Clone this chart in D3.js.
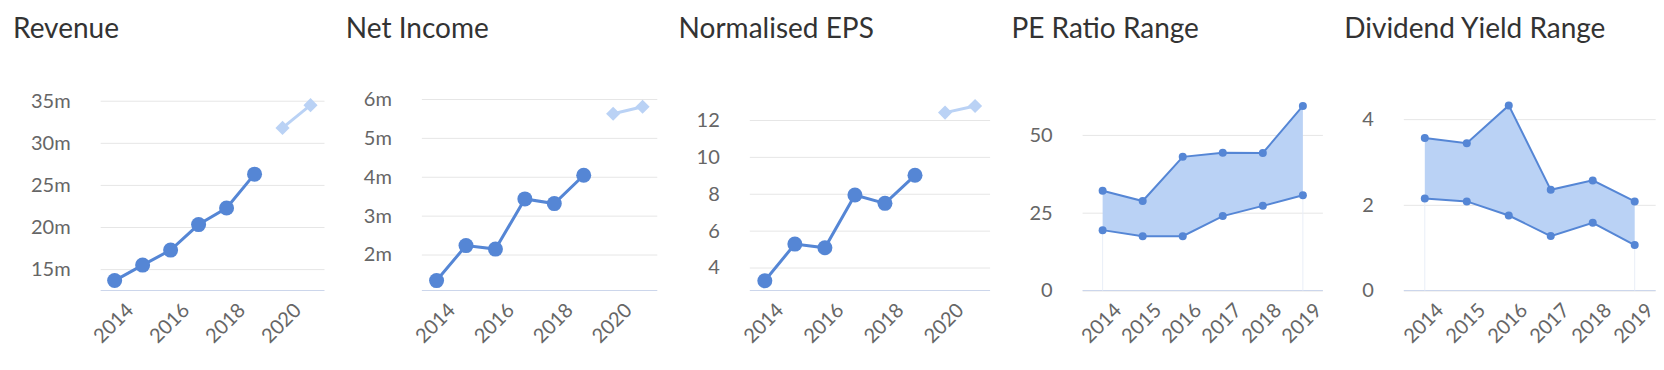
<!DOCTYPE html>
<meta charset="utf-8">
<style>
body { margin: 0; background: #fff; }
svg text { font-family: Lato, sans-serif; }
.title { font-size: 28px; fill: #333; }
.tick text { font-size: 20px; fill: #666; }
</style>
<body>
<script src="https://d3js.org/d3.v7.min.js"></script>
<script>

// chart data
var titles = ["Revenue", "Net Income", "Normalised EPS", "PE Ratio Range", "Dividend Yield Range"];

var lineYears = [2014, 2015, 2016, 2017, 2018, 2019, 2020, 2021];
var lineLabelYears = [2014, 2016, 2018, 2020];
var actualYears = [2014, 2015, 2016, 2017, 2018, 2019];
var forecastYears = [2020, 2021];

var revenue = [13.64, 15.48, 17.26, 20.29, 22.26, 26.28];
var revenueForecast = [31.77, 34.47];
var revenueTicks = [15, 20, 25, 30, 35];
var revenueDomain = [12.46, 35.56];

var netIncome = [1.33, 2.23, 2.14, 3.43, 3.31, 4.04];
var netIncomeForecast = [5.62, 5.80];
var netIncomeTicks = [2, 3, 4, 5, 6];
var netIncomeDomain = [1.075, 6.077];

var eps = [3.28, 5.27, 5.07, 7.93, 7.48, 9.00];
var epsForecast = [12.40, 12.76];
var epsTicks = [4, 6, 8, 10, 12];
var epsDomain = [2.754, 13.3];

var rangeYears = [2014, 2015, 2016, 2017, 2018, 2019];

var peLow = [19.4, 17.4, 17.45, 23.9, 27.2, 30.6];
var peHigh = [32.05, 28.75, 42.95, 44.3, 44.2, 59.3];
var peTicks = [0, 25, 50];
var peDomain = [0, 62.5];

var divLow = [2.15, 2.08, 1.75, 1.27, 1.58, 1.06];
var divHigh = [3.56, 3.44, 4.32, 2.35, 2.57, 2.08];
var divTicks = [0, 2, 4];
var divDomain = [0, 4.54];

// layout
var W = 1664, H = 370;
var panelW = W / 5;
var plotTop = 96, plotBottom = 290.5, plotRight = 324.5;
var labelLeft = 31, labelGap = 30;

var blue = "#5586d5", lightBlue = "#bad2f5";

var svg = d3.select("body").append("svg")
    .attr("width", W)
    .attr("height", H);

var mFmt = function(d) { return d + "m"; };
var nFmt = function(d) { return d; };

var panels = [
  {type: "line", actual: revenue, forecast: revenueForecast, ticks: revenueTicks, domain: revenueDomain, fmt: mFmt},
  {type: "line", actual: netIncome, forecast: netIncomeForecast, ticks: netIncomeTicks, domain: netIncomeDomain, fmt: mFmt},
  {type: "line", actual: eps, forecast: epsForecast, ticks: epsTicks, domain: epsDomain, fmt: nFmt},
  {type: "range", low: peLow, high: peHigh, ticks: peTicks, domain: peDomain, fmt: nFmt},
  {type: "range", low: divLow, high: divHigh, ticks: divTicks, domain: divDomain, fmt: nFmt}
];

panels.forEach(function(p, i) {
  var g = svg.append("g")
      .attr("transform", "translate(" + (i * panelW) + ",0)");

  g.append("text")
      .attr("class", "title")
      .attr("x", 13)
      .attr("y", 38)
      .text(titles[i]);

  // measure widest y label to find the plot's left edge
  var meas = g.append("text").style("font-size", "20px");
  var maxW = d3.max(p.ticks, function(t) {
    meas.text(p.fmt(t));
    return meas.node().getComputedTextLength();
  });
  meas.remove();
  var left = labelLeft + maxW + labelGap;

  var cats = p.type == "line" ? lineYears : rangeYears;
  var x = d3.scaleBand().domain(cats).range([left, plotRight]);
  var cx = function(yr) { return x(yr) + x.bandwidth() / 2; };
  var y = d3.scaleLinear().domain(p.domain).range([plotBottom, plotTop]);

  // y axis with gridlines
  var yAxis = g.append("g")
      .attr("transform", "translate(" + left + ",0)")
      .call(d3.axisLeft(y).tickValues(p.ticks).tickFormat(p.fmt)
            .tickSize(-(plotRight - left)).tickPadding(labelGap));
  yAxis.select(".domain").remove();
  yAxis.selectAll(".tick line").attr("stroke", "#e6e6e6");
  yAxis.selectAll(".tick text").attr("fill", "#666");

  // x axis
  var xAxis = g.append("g")
      .attr("transform", "translate(0," + plotBottom + ")")
      .call(d3.axisBottom(x).tickValues(p.type == "line" ? lineLabelYears : rangeYears)
            .tickSize(0).tickPadding(0));
  xAxis.select(".domain").remove();
  xAxis.selectAll(".tick text")
      .attr("y", 0).attr("dy", 0)
      .attr("fill", "#666")
      .attr("text-anchor", "end")
      .attr("transform", "translate(20,21) rotate(-45)");

  g.append("line")
      .attr("x1", left).attr("x2", plotRight)
      .attr("y1", plotBottom).attr("y2", plotBottom)
      .attr("stroke", "#ccd6eb");

  if (p.type == "line") {
    var act = actualYears.map(function(yr, j) { return {yr: yr, v: p.actual[j]}; });
    var fc = forecastYears.map(function(yr, j) { return {yr: yr, v: p.forecast[j]}; });
    var line = d3.line()
        .x(function(d) { return cx(d.yr); })
        .y(function(d) { return y(d.v); });

    g.append("path").datum(fc)
        .attr("fill", "none").attr("stroke", lightBlue).attr("stroke-width", 3)
        .attr("d", line);
    g.selectAll(".fc").data(fc).enter().append("path")
        .attr("class", "fc")
        .attr("d", d3.symbol(d3.symbolSquare, 100))
        .attr("fill", lightBlue)
        .attr("transform", function(d) { return "translate(" + cx(d.yr) + "," + y(d.v) + ") rotate(45)"; });

    g.append("path").datum(act)
        .attr("fill", "none").attr("stroke", blue).attr("stroke-width", 3)
        .attr("d", line);
    g.selectAll(".pt").data(act).enter().append("circle")
        .attr("class", "pt")
        .attr("cx", function(d) { return cx(d.yr); })
        .attr("cy", function(d) { return y(d.v); })
        .attr("r", 7.5)
        .attr("fill", blue);
  } else {
    var rows = rangeYears.map(function(yr, j) { return {yr: yr, lo: p.low[j], hi: p.high[j]}; });
    var n = rows.length;

    // faint edge lines under the band at both ends
    [rows[0], rows[n - 1]].forEach(function(d) {
      g.append("line")
          .attr("x1", cx(d.yr)).attr("x2", cx(d.yr))
          .attr("y1", y(d.lo)).attr("y2", plotBottom)
          .attr("stroke", "#e9eef7");
    });

    var area = d3.area()
        .x(function(d) { return cx(d.yr); })
        .y0(function(d) { return y(d.lo); })
        .y1(function(d) { return y(d.hi); });
    g.append("path").datum(rows)
        .attr("fill", lightBlue)
        .attr("d", area);

    ["lo", "hi"].forEach(function(k) {
      g.append("path").datum(rows)
          .attr("fill", "none").attr("stroke", blue).attr("stroke-width", 2)
          .attr("d", d3.line()
              .x(function(d) { return cx(d.yr); })
              .y(function(d) { return y(d[k]); }));
      g.selectAll(".m" + k).data(rows).enter().append("circle")
          .attr("class", "m" + k)
          .attr("cx", function(d) { return cx(d.yr); })
          .attr("cy", function(d) { return y(d[k]); })
          .attr("r", 4)
          .attr("fill", blue);
    });
  }
});

</script>
</body>
